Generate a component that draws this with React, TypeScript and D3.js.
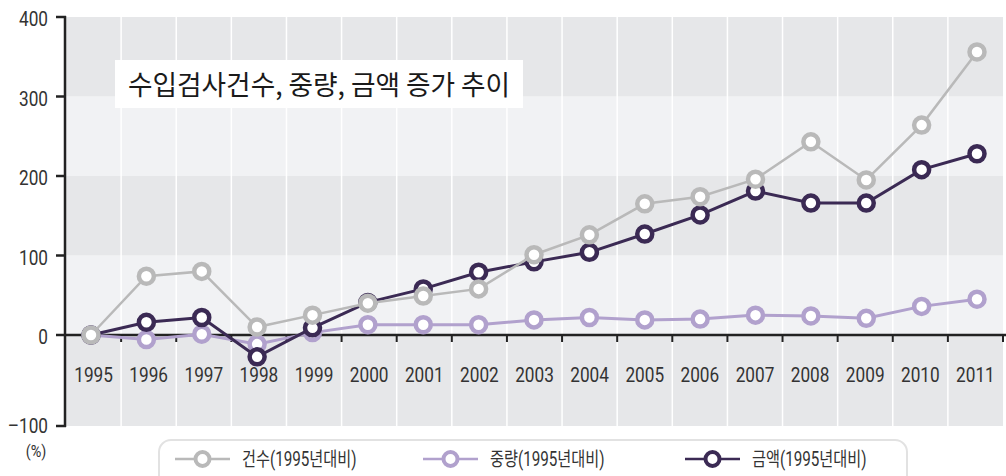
import React from "react";
import * as d3 from "d3";

const years = ["1995","1996","1997","1998","1999","2000","2001","2002","2003","2004","2005","2006","2007","2008","2009","2010","2011"];
const countVals = [0, 74, 80, 10, 25, 40, 49, 58, 101, 126, 165, 174, 196, 243, 195, 264, 356];
const weightVals = [0, -5, 1, -10, 3, 13, 13, 13, 19, 22, 19, 20, 25, 24, 21, 36, 45];
const amountVals = [0, 16, 22, -24, 9, 41, 58, 79, 92, 104, 127, 151, 181, 166, 166, 208, 228];
const yTicks = [-100, 0, 100, 200, 300, 400];
const seriesNames = ["건수(1995년대비)", "중량(1995년대비)", "금액(1995년대비)"];
const title = "수입검사건수, 중량, 금액 증가 추이";

const W = 1006, H = 476;
const C_GRAY = "#b9b9b9", C_LIGHT = "#b1a1cd", C_DARK = "#3b2a54";
const NFONT = "Roboto, sans-serif";
const LFONT = "Roboto, 'Noto Sans CJK KR', sans-serif";
const KFONT = "'Noto Sans CJK KR', sans-serif";

export default function App() {
  const band = d3.scaleBand<string>().domain(years).range([66, 1003]).padding(0);
  const xp = d3.scalePoint<string>().domain(years).range([91, 977]);
  const y = d3.scaleLinear().domain([-100, 0, 400]).range([426, 335, 17]);
  const line = d3.line<number>().x((_, i) => xp(years[i])!).y(d => y(d));

  const bands = d3.range(-100, 400, 100).map((v, i) => ({ lo: v, hi: v + 100, dark: i % 2 === 0 }));
  const series = [
    { vals: weightVals, color: C_LIGHT, w: 3, r: 7.5, sw: 4.5 },
    { vals: amountVals, color: C_DARK, w: 3, r: 7.5, sw: 4.5 },
    { vals: countVals, color: C_GRAY, w: 2.5, r: 7.5, sw: 4.5 },
  ];
  const legendColors = [C_GRAY, C_LIGHT, C_DARK];
  const legendX = [175, 423, 685];

  const boundaries = years.map(yr => band(yr)!).concat([band.range()[1]]);

  return (
    <svg width={W} height={H} style={{ position: "absolute", left: 0, top: 0, background: "#fff" }}>
      {bands.map((b, i) => (
        <rect key={i} x={66} width={1003 - 66} y={y(b.hi)} height={y(b.lo) - y(b.hi)} fill={b.dark ? "#e6e7e9" : "#f1f2f4"} />
      ))}
      {boundaries.slice(1, -1).map((bx, i) => (
        <line key={i} x1={bx} x2={bx} y1={y(400)} y2={y(-100)} stroke="#fff" strokeWidth={1.5} />
      ))}
      {/* title box */}
      <rect x={115} y={60} width={408} height={48} fill="#fff" />
      <g transform="translate(128,95) scale(0.97,1)">
        <text x={0} y={0} fontFamily={KFONT} fontSize={27.5} fill="#1a1a1a">{title}</text>
      </g>

      {/* x labels */}
      {years.map(yr => (
        <g key={yr} transform={`translate(${band(yr)! + band.bandwidth() / 2},374) scale(0.82,1)`}>
          <text x={0} y={0} dy="0.36em" textAnchor="middle" fontFamily={NFONT} fontSize={21} fill="#333">{yr}</text>
        </g>
      ))}

      {/* zero line */}
      <line x1={64} x2={1006} y1={y(0)} y2={y(0)} stroke="#222" strokeWidth={2.5} />
      {boundaries.slice(1).map((bx, i) => (
        <line key={i} x1={bx} x2={bx} y1={y(0)} y2={y(0) + 7} stroke="#222" strokeWidth={2} />
      ))}

      {/* y axis */}
      <line x1={65} x2={65} y1={y(400) - 1} y2={y(-100) + 1} stroke="#222" strokeWidth={2.5} />
      {yTicks.map(t => (
        <g key={t}>
          <line x1={56} x2={66} y1={y(t)} y2={y(t)} stroke="#222" strokeWidth={2.5} />
          <g transform={`translate(48,${y(t) + (t < 0 ? -1 : 1.5)}) scale(0.82,1)`}>
            <text x={0} y={0} dy="0.36em" textAnchor="end" fontFamily={NFONT} fontSize={21} fill="#333">
              {t < 0 ? "\u2013" + Math.abs(t) : t}
            </text>
          </g>
        </g>
      ))}
      <g transform="translate(36,451) scale(0.85,1)">
        <text x={0} y={0} dy="0.36em" textAnchor="middle" fontFamily={NFONT} fontSize={17} fill="#333">(%)</text>
      </g>

      {/* series */}
      {series.map((s, si) => (
        <g key={si}>
          <path d={line(s.vals)!} fill="none" stroke={s.color} strokeWidth={s.w} />
          {s.vals.map((v, i) => (
            <circle key={i} cx={xp(years[i])!} cy={y(v)} r={s.r} fill="#fff" stroke={s.color} strokeWidth={s.sw} />
          ))}
        </g>
      ))}

      {/* legend */}
      <rect x={159} y={440} width={748} height={50} rx={12} fill="#fff" stroke="#e2e2e2" strokeWidth={2} />
      {seriesNames.map((n, i) => (
        <g key={n}>
          <line x1={legendX[i]} x2={legendX[i] + 55} y1={459} y2={459} stroke={legendColors[i]} strokeWidth={2.5} />
          <circle cx={legendX[i] + 27.5} cy={459} r={7} fill="#fff" stroke={legendColors[i]} strokeWidth={4} />
          <g transform={`translate(${legendX[i] + 67},459) scale(0.78,1)`}>
            <text x={0} y={0} dy="0.36em" fontFamily={LFONT} fontSize={19.5} fill="#333">{n}</text>
          </g>
        </g>
      ))}
    </svg>
  );
}
